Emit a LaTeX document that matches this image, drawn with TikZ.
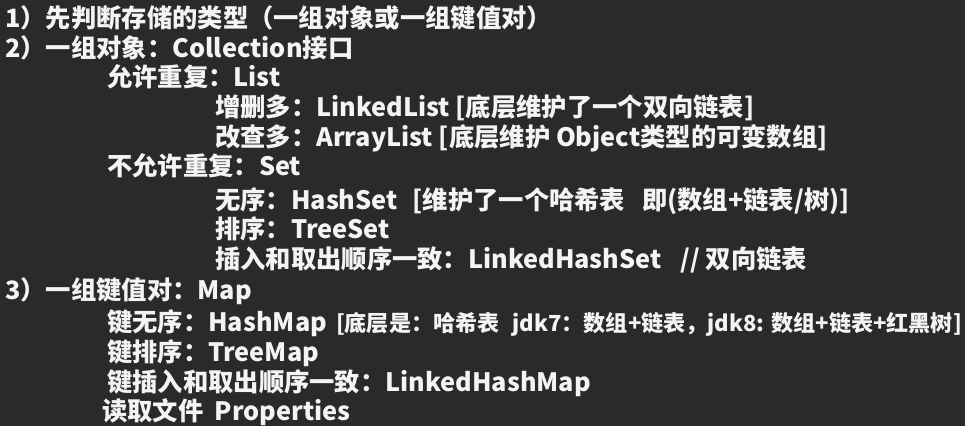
\documentclass[tikz,border=0pt]{standalone}
\usepackage{fontspec}
\newfontfamily\cjk{Noto Sans CJK SC}
\definecolor{board}{HTML}{2A2A2A}
\definecolor{chalk}{HTML}{F4F4F4}
\begin{document}
\begin{tikzpicture}[x=1pt,y=-1pt,
  ln/.style={anchor=base west,inner sep=0pt,text=chalk,font=\cjk\bfseries\fontsize{25.3}{25.3}\selectfont}]
\fill[board] (0,0) rectangle (965,426);
\useasboundingbox (0,0) rectangle (965,426);
\node[ln] (l1) at (5,27) {1）先判断存储的类型（一组对象或一组键值对）};
\node[ln] (l2) at (5,57) {2）一组对象：Collection接口};
\node[ln] (l3) at (107,86) {允许重复：List};
\node[ln] (l4) at (215,116) {增删多：LinkedList [底层维护了一个双向链表]};
\node[ln] (l5) at (215,146) {改查多：ArrayList [底层维护 Object类型的可变数组]};
\node[ln] (l6) at (107,175) {不允许重复：Set};
\node[ln] (l7) at (215,209) {无序：HashSet\hspace{15pt}[维护了一个哈希表\hspace{17pt}即(数组+链表/树)]};
\node[ln] (l8) at (215,238) {排序：TreeSet};
\node[ln] (l9) at (215,268) {插入和取出顺序一致：LinkedHashSet\hspace{19pt}// 双向链表};
\node[ln] (l10) at (5,299) {3）一组键值对：Map};
\node[ln] (l11) at (107,331) {键无序：HashMap\hspace{9pt}{\fontsize{22.1}{22.1}\selectfont[底层是：哈希表\hspace{13pt}jdk7：数组+链表，jdk8: 数组+链表+红黑树]}};
\node[ln] (l12) at (107,361) {键排序：TreeMap};
\node[ln] (l13) at (107,391) {键插入和取出顺序一致：LinkedHashMap};
\node[ln] (l14) at (102,420) {读取文件\ \ Properties};
\end{tikzpicture}
\end{document}
